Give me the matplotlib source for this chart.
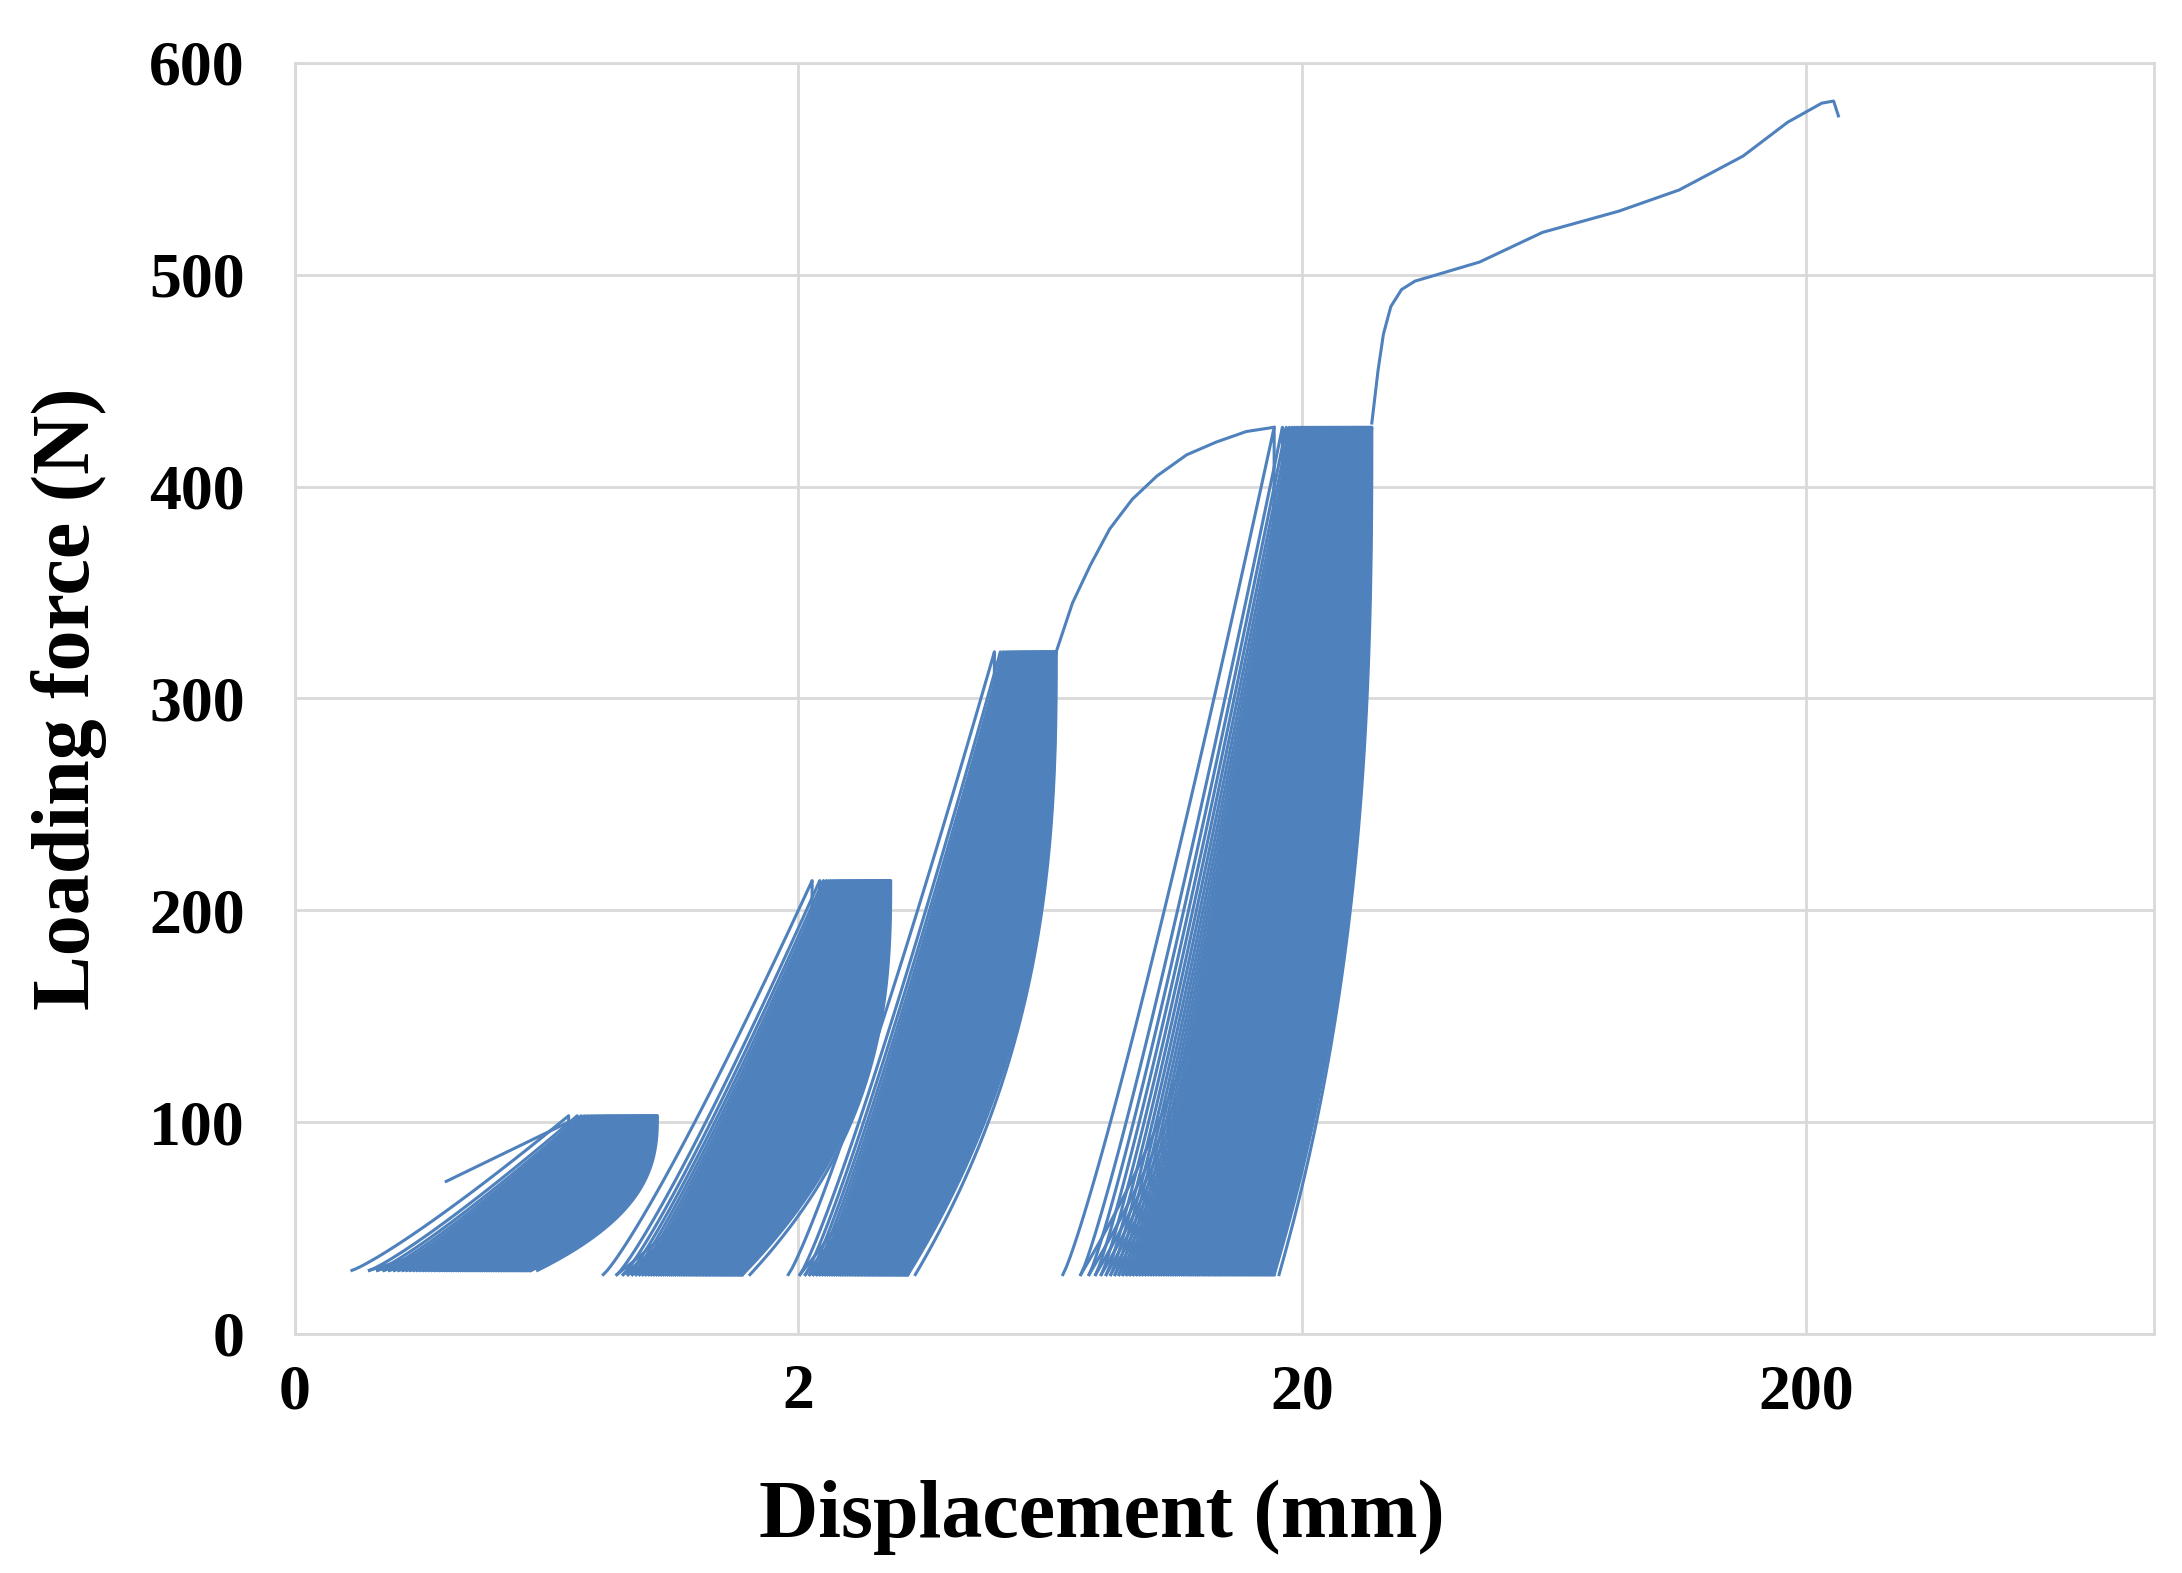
import numpy as np
import matplotlib
matplotlib.use("Agg")
import matplotlib.pyplot as plt

color = "#4f81bd"
# cycle blocks: min disp first/last, peak disp first/last, peak force, cycle count
min_first = [0.26, 0.82, 1.91, 6.7]
min_last = [0.59, 1.55, 3.3, 17.6]
peak_first = [0.70, 2.13, 4.9, 17.6]
peak_last = [1.05, 3.05, 6.5, 27.5]
peak_force = [103, 214, 322, 428]
n_cycles = [70, 70, 70, 90]
min_force = [30, 28, 28, 28]
# initial loading segment
init_x = [0.40, 0.70]
init_y = [72, 100]
# monotonic segments
trans_x = [6.5, 7.0, 7.6, 8.3, 9.2, 10.3, 11.8, 13.5, 15.5, 17.6]
trans_y = [322, 345, 363, 380, 394, 405, 415, 421, 426, 428]
final_x = [27.5, 28.3, 29.0, 30.0, 31.5, 33.5, 37, 45, 60, 85, 112, 150, 184, 215, 227, 232]
final_y = [430, 455, 472, 485, 493, 497, 500, 506, 520, 530, 540, 556, 572, 581, 582, 575]

fig = plt.figure(figsize=(21.82, 15.73), dpi=100)
ax = fig.add_axes([0.135, 0.152, 0.852, 0.808])
ax.set_xscale("log")

for i in range(4):
    n = n_cycles[i]
    s = np.linspace(0, 1, n) ** 0.55
    la_all = np.log10(min_first[i]) + (np.log10(min_last[i]) - np.log10(min_first[i])) * s
    lb_all = np.log10(peak_first[i]) + (np.log10(peak_last[i]) - np.log10(peak_first[i])) * s
    fmin, fpk = min_force[i], peak_force[i]
    for k in range(n):
        la, lb = la_all[k], lb_all[k]
        la_next = la_all[k + 1] if k + 1 < n else la_all[-1] + (lb - la_all[-1]) * 0.05
        t = np.linspace(0, 1, 60)
        xl = 10 ** (la + (lb - la) * t)
        yl = fmin + (fpk - fmin) * t ** 1.15
        u = np.linspace(1, 0, 60)
        xu = 10 ** (lb - (lb - la_next) * (1 - u) ** 2.6)
        yu = fmin + (fpk - fmin) * u
        ax.plot(np.r_[xl, xu], np.r_[yl, yu], color=color, lw=2.2)
ax.plot(init_x, init_y, color=color, lw=2.2)
ax.plot(trans_x, trans_y, color=color, lw=2.2)
ax.plot(final_x, final_y, color=color, lw=2.2)

ax.set_xlim(0.2, 980)
ax.set_ylim(0, 600)
ax.set_xticks([0.2, 2, 20, 200])
ax.set_xticklabels(["0", "2", "20", "200"])
ax.minorticks_off()
ax.set_yticks(range(0, 601, 100))
ax.grid(True, color="#d9d9d9", lw=2)
ax.set_axisbelow(True)
for sp in ax.spines.values():
    sp.set_color("#d9d9d9"); sp.set_linewidth(2)
ax.tick_params(axis="y", length=0, pad=36)
ax.tick_params(axis="x", length=0, pad=22)
for lab in ax.get_xticklabels() + ax.get_yticklabels():
    lab.set_fontfamily("Liberation Serif"); lab.set_fontweight("bold"); lab.set_fontsize(46)
ax.set_xlabel("Displacement (mm)", fontfamily="Liberation Serif", fontweight="bold", fontsize=59, labelpad=28)
ax.xaxis.set_label_coords(0.434, -0.115)
ax.set_ylabel("Loading force (N)", fontfamily="Liberation Serif", fontweight="bold", fontsize=59, labelpad=30)
fig.savefig("out.png", dpi=100)
